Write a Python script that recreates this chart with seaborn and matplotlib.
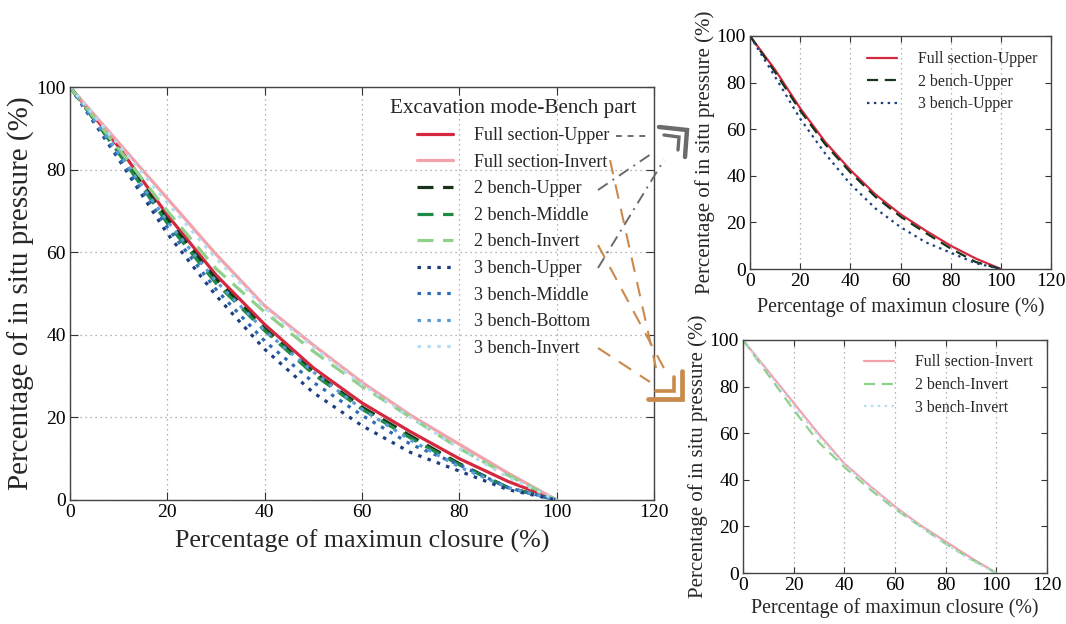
import numpy as np
import pandas as pd
import seaborn as sns
import matplotlib
matplotlib.use("Agg")
import matplotlib.pyplot as plt
from matplotlib.lines import Line2D

# ---- data -------------------------------------------------------------
closure = [0, 10, 20, 30, 40, 50, 60, 70, 80, 90, 100]

full_upper   = [100, 85.5, 69.0, 54.5, 42.5, 32.0, 23.5, 16.5, 10.0, 4.5, 0]
full_invert  = [100, 86.5, 73.0, 59.5, 47.0, 37.5, 28.5, 20.5, 13.5, 6.5, 0]
bench2_upper  = [100, 84.5, 68.0, 53.5, 41.5, 31.0, 22.5, 15.5, 8.8, 3.0, 0]
bench2_middle = [100, 84.0, 67.0, 52.5, 41.0, 30.5, 22.0, 15.0, 8.5, 3.0, 0]
bench2_invert = [100, 85.0, 70.0, 56.0, 45.5, 36.0, 27.5, 20.0, 12.5, 6.0, 0]
bench3_upper  = [100, 82.5, 64.5, 49.5, 36.5, 26.0, 18.0, 11.5, 7.0, 2.5, 0]
bench3_middle = [100, 83.0, 66.0, 51.0, 38.5, 28.5, 20.5, 13.5, 8.5, 3.0, 0]
bench3_bottom = [100, 84.0, 67.5, 53.0, 41.0, 31.0, 22.0, 14.5, 8.0, 3.0, 0]
bench3_invert = [100, 86.0, 72.0, 58.5, 46.5, 37.0, 28.0, 20.0, 12.5, 5.5, 0]

series_names = ["Full section-Upper", "Full section-Invert",
                "2 bench-Upper", "2 bench-Middle", "2 bench-Invert",
                "3 bench-Upper", "3 bench-Middle", "3 bench-Bottom", "3 bench-Invert"]
series_values = [full_upper, full_invert, bench2_upper, bench2_middle, bench2_invert,
                 bench3_upper, bench3_middle, bench3_bottom, bench3_invert]

upper_group = ["Full section-Upper", "2 bench-Upper", "3 bench-Upper"]
invert_group = ["Full section-Invert", "2 bench-Invert", "3 bench-Invert"]

x_ticks = [0, 20, 40, 60, 80, 100, 120]
y_ticks = [0, 20, 40, 60, 80, 100]

# ---- styles -----------------------------------------------------------
DASH = (0, (5, 3))
DOT = (0, (1.1, 2.0))
styles = {
    "Full section-Upper":  ("#d5283f", "-"),
    "Full section-Invert": ("#f3a1aa", "-"),
    "2 bench-Upper":       ("#17331b", DASH),
    "2 bench-Middle":      ("#1d8a48", DASH),
    "2 bench-Invert":      ("#8fd08a", DASH),
    "3 bench-Upper":       ("#1d3f7e", DOT),
    "3 bench-Middle":      ("#2d6cb2", DOT),
    "3 bench-Bottom":      ("#5b9bd6", DOT),
    "3 bench-Invert":      ("#b5ddf1", DOT),
}

df = pd.DataFrame({"closure": np.tile(closure, len(series_names)),
                   "pressure": np.concatenate(series_values),
                   "case": np.repeat(series_names, len(closure))})

sns.set_style("ticks")
plt.rcParams["font.family"] = ["Liberation Serif", "DejaVu Serif"]
plt.rcParams["mathtext.fontset"] = "stix"

fig = plt.figure(figsize=(10.66, 6.24), dpi=100)
W, H = 1066, 624


def box(l, t, r, b):
    return [l / W, 1 - b / H, (r - l) / W, (b - t) / H]


def style_axes(ax, tick_size, label_size, ylabel_size, grid_y, tick_len, xpad):
    ax.set_xlim(0, 120)
    ax.set_ylim(0, 100)
    ax.set_xticks(x_ticks)
    ax.set_yticks(y_ticks)
    ax.tick_params(direction="in", top=True, right=True, length=tick_len,
                   width=0.8, labelsize=tick_size, colors="#333333",
                   labelcolor="black", pad=3)
    for s in ax.spines.values():
        s.set_color("#444444")
        s.set_linewidth(1.0)
    ax.grid(False)
    ax.xaxis.grid(True, linestyle=(0, (1, 3)), color="#9a9a9a", linewidth=0.9)
    if grid_y:
        ax.yaxis.grid(True, linestyle=(0, (1, 3)), color="#9a9a9a", linewidth=0.9)
    ax.set_axisbelow(True)
    ax.set_xlabel("Percentage of maximun closure (%)", fontsize=label_size, labelpad=xpad)
    ax.set_ylabel("Percentage of in situ pressure (%)", fontsize=ylabel_size, labelpad=1)


def draw(ax, names, lw):
    for name in names:
        color, ls = styles[name]
        sns.lineplot(data=df[df["case"] == name], x="closure", y="pressure",
                     ax=ax, color=color, linestyle=ls, linewidth=lw,
                     label=name, legend=False)


# ---- main panel -------------------------------------------------------
ax_main = fig.add_axes(box(70, 87, 654, 500))
draw(ax_main, series_names, 2.3)
style_axes(ax_main, 14, 18.7, 21, True, 6, 6)
ax_main.legend(loc="upper left", bbox_to_anchor=(0.548, 0.972),
               frameon=False, fontsize=13, title="Excavation mode-Bench part",
               title_fontsize=15.2, handlelength=2.0, handletextpad=1.2,
               labelspacing=0.53, borderpad=0, borderaxespad=0)

# ---- upper-part comparison -------------------------------------------
ax_up = fig.add_axes(box(750, 36, 1051, 269))
draw(ax_up, upper_group, 1.6)
style_axes(ax_up, 14, 14.4, 15, False, 4, 5)
ax_up.legend(loc="upper right", bbox_to_anchor=(0.955, 0.935), frameon=False,
             fontsize=11.4, handlelength=1.9, handletextpad=1.3,
             labelspacing=0.42, borderpad=0, borderaxespad=0)

# ---- invert comparison ------------------------------------------------
ax_inv = fig.add_axes(box(743, 340, 1047, 573))
draw(ax_inv, invert_group, 1.6)
style_axes(ax_inv, 14, 14.4, 15, False, 4, 3)
ax_inv.legend(loc="upper right", bbox_to_anchor=(0.952, 0.938), frameon=False,
              fontsize=11.4, handlelength=1.9, handletextpad=1.3,
              labelspacing=0.42, borderpad=0, borderaxespad=0)

# ---- connector lines and chevrons (figure pixel space) ------------------
def fpx(points):
    xs = [p[0] / W for p in points]
    ys = [1 - p[1] / H for p in points]
    return xs, ys


def fig_line(points, color, ls, lw):
    xs, ys = fpx(points)
    fig.add_artist(Line2D(xs, ys, transform=fig.transFigure, color=color,
                          linestyle=ls, linewidth=lw, solid_capstyle="round",
                          solid_joinstyle="miter"))


GRAY = "#6b6b6b"
BROWN = "#c98a4c"
fig_line([(616, 136), (648, 136)], GRAY, (0, (3, 3)), 1.4)
fig_line([(598, 190), (654, 152)], GRAY, (0, (6, 3, 1, 3)), 1.4)
fig_line([(598, 268), (664, 160)], GRAY, (0, (6, 3, 1, 3)), 1.4)
fig_line([(659, 127), (687, 130), (685, 157)], GRAY, "-", 3.2)
fig_line([(664, 135), (679, 137), (678, 150)], GRAY, "-", 2.4)

fig_line([(610, 160), (656, 368)], BROWN, (0, (7, 5)), 1.5)
fig_line([(598, 245), (666, 372)], BROWN, (0, (7, 5)), 1.5)
fig_line([(598, 348), (650, 382)], BROWN, (0, (7, 5)), 1.5)
fig_line([(648, 399), (682, 399), (682, 371)], BROWN, "-", 3.4)
fig_line([(656, 391), (674, 391), (674, 377)], BROWN, "-", 2.6)

fig.savefig("out.png", dpi=100)
